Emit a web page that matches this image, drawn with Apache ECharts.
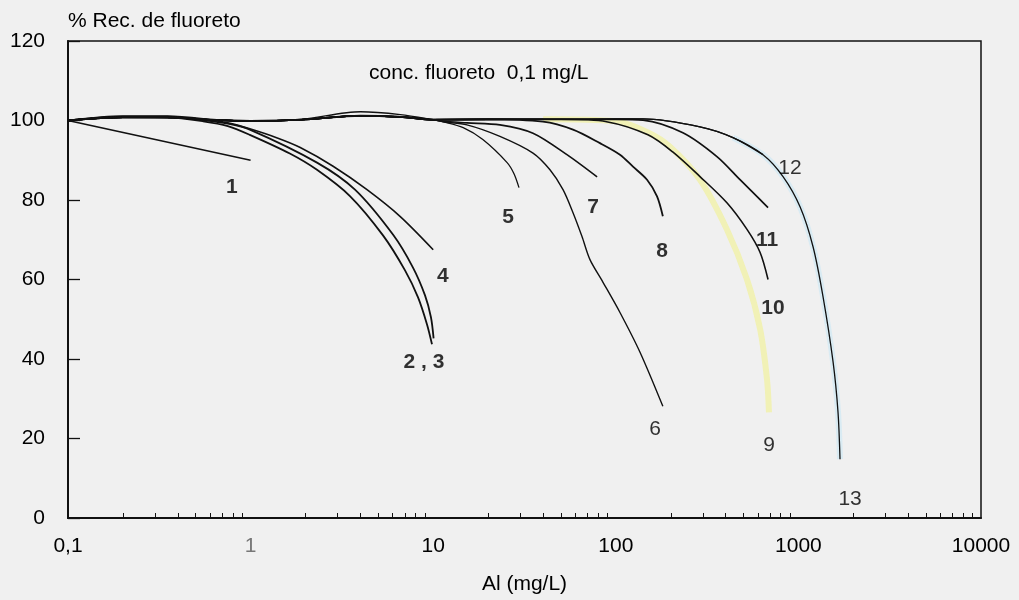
<!DOCTYPE html>
<html>
<head>
<meta charset="utf-8">
<script src="https://cdn.jsdelivr.net/npm/echarts@6/dist/echarts.min.js"></script>
<style>
html,body{margin:0;padding:0;background:#f0f0f0;}
#chart{width:1019px;height:600px;}
</style>
</head>
<body>
<div id="chart"></div>
<script>
// ---- data (x = Al mg/L, y = % recovery) ----
const xTickLabels = [0.1, 1, 10, 100, 1000, 10000];
const xMinorTicks = [0.2,0.3,0.4,0.5,0.6,0.7,0.8,0.9, 2,3,4,5,6,7,8,9, 20,30,40,50,60,70,80,90, 200,300,400,500,600,700,800,900, 2000,3000,4000,5000,6000,7000,8000,9000];

const curve1 = [[0.1,100],[1,90]];
const curve2 = [[0.1,100],[0.2,100.9],[0.35,100.8],[0.55,99.8],[0.75,98.6],[0.99,96.4],[1.64,91.7],[2.31,87.6],[3.5,81.0],[5.31,71.1],[7.01,62.3],[8.26,55.5],[9.25,48.7],[9.85,43.7]];
const curve3 = [[0.1,100],[0.2,101],[0.35,101],[0.55,100.1],[0.75,99.2],[0.99,97.7],[2.31,89.4],[3.73,82.6],[6.02,71.3],[7.75,63.0],[9.02,56.0],[9.72,50.5],[10.05,45.2]];
const curve4 = [[0.1,100],[0.2,101.1],[0.35,101.1],[0.55,100.4],[0.75,99.4],[0.99,97.9],[1.4,95.6],[1.87,93.2],[2.83,88.5],[4.34,82.6],[6.58,75.9],[10,67.5]];
const curve5 = [[0.1,100],[0.2,100.7],[0.4,100.6],[0.7,100],[1,99.8],[1.9,100.3],[4,102.2],[6.6,101.5],[10,100.2],[11.3,99.7],[14.6,98.2],[18.7,95.2],[25.4,89.4],[27.7,86.6],[29.5,83.1]];
const head = [[0.1,100],[0.2,100.8],[0.35,100.8],[0.6,100.2],[1,99.9],[1.9,100.2],[4,101.2],[6.6,100.9],[10,100.2]];
const tail6 = [[11.3,99.7],[15.3,98.9],[23.2,96.0],[35.2,91.8],[43.6,87.6],[51.4,82.6],[58.3,76.8],[65.3,70.8],[72.2,65.0],[85.1,59.3],[105.4,51.7],[135.7,41.7],[181,28.1]];
const tail7 = [[11.3,99.8],[15.3,99.4],[23.2,98.9],[35.2,96.8],[54,91.4],[79,85.8]];
const tail8 = [[20,100.3],[39.9,99.7],[58.3,97.7],[81.9,94.3],[105.4,91.4],[124.2,88.4],[148.3,85.1],[168.2,80.9],[181,75.9]];
const tail9 = [[20,100.3],[40,100.3],[100,99.8],[150,97],[198,93.4],[289,85.1],[406,72.6],[523,60],[617,47.5],[673,34.9],[690,26.6]];
const tail10 = [[20,100.3],[50,100.3],[89,99.7],[150,96.4],[205,92.1],[289,85.9],[406,79.3],[523,72.6],[617,66.8],[682,60]];
const tail11 = [[20,100.3],[50,100.3],[100,100.3],[141,100.1],[233,96.9],[358,90.9],[479,85.1],[617,80.1],[682,78.1]];
const tail12 = [[20,100.3],[50,100.3],[100,100.4],[141,100.4],[289,98.4],[438,95.7],[640,91.4]];
const tail13 = [[824,85.9],[1021,78.3],[1202,68.3],[1364,55.7],[1549,39.2],[1648,26.6],[1690,14.8]];

const curve6 = head.concat(tail6);
const curve7 = head.concat(tail7);
const curve8 = head.concat(tail8);
const curve9 = head.concat(tail9);
const curve10 = head.concat(tail10);
const curve11 = head.concat(tail11);
const curve12 = head.concat(tail12);
const curve13 = head.concat(tail12, tail13);

const labelText = ['1','2 , 3','4','5','7','8','6','9','10','11','12','13'];
const labelX    = [0.79, 8.9, 11.3, 25.7, 75, 179, 164, 690, 726, 673, 899, 1919];
const labelY    = [83.1, 39.2, 60.8, 75.6, 78.3, 67.0, 22.3, 18.3, 52.7, 69.8, 87.9, 4.8];
const labelBold = [true, true, true, true, true, true, false, false, true, true, false, false];

// ---- chart ----
const FONT = '"Liberation Sans", Arial, Helvetica, sans-serif';
const FS = 21;
const INK = '#000';
const chart = echarts.init(document.getElementById('chart'), null, {renderer:'canvas'});

function line(data, color, w, z) {
  return {type:'line', data:data, showSymbol:false, symbol:'none', smooth:0.3,
    lineStyle:{color:color, width:w}, silent:true, animation:false, z:z};
}

const series = [
  // pale coloured bands under curves 9 and 13
  line(curve9.slice(head.length + 1), '#f1f1b6', 6, 1),
  line(curve13.slice(-9), '#d9ebf3', 6, 1),
  line(curve1, '#111', 1.6, 3),
  line(curve2, '#111', 1.8, 3),
  line(curve3, '#111', 1.8, 3),
  line(curve4, '#111', 1.6, 3),
  line(curve5, '#111', 1.3, 3),
  line(curve6, '#111', 1.4, 3),
  line(curve7, '#111', 1.6, 3),
  line(curve8, '#111', 1.8, 3),
  line(curve9.slice(0, head.length + 2), '#111', 1.2, 3),
  line(curve10, '#111', 1.6, 3),
  line(curve11, '#111', 1.7, 3),
  line(curve12, '#111', 1.4, 3),
  line(curve13, '#111', 1.3, 3),
  {type:'scatter', symbolSize:1, itemStyle:{color:'rgba(0,0,0,0)'}, silent:true, animation:false, z:5,
    data: labelText.map((t,i)=>({name:t, value:[labelX[i], labelY[i]],
      label:{show:true, position:'inside', formatter:t, color:INK,
        fontFamily:FONT, fontSize:FS, fontWeight: labelBold[i] ? 'bold' : 'normal'}}))}
];

chart.setOption({
  backgroundColor:'#f0f0f0',
  animation:false,
  grid:{left:68, right:38, top:41, bottom:81, show:true, borderColor:'#111', borderWidth:1.5, backgroundColor:'#f0f0f0'},
  graphic:[
    {type:'text', left:68, top:11, style:{text:'% Rec. de fluoreto', font:FS+'px '+FONT, fill:INK}},
    {type:'text', left:369, top:63, style:{text:'conc. fluoreto  0,1 mg/L', font:FS+'px '+FONT, fill:INK}}
  ],
  xAxis:{
    type:'log', logBase:10, min:0.1, max:10000,
    name:'Al (mg/L)', nameLocation:'middle', nameGap:56,
    nameTextStyle:{fontFamily:FONT, fontSize:FS, color:INK},
    axisLine:{show:true, onZero:false, lineStyle:{color:'#111', width:2}},
    axisTick:{show:true, inside:true, length:5, customValues:xMinorTicks, lineStyle:{color:'#111', width:1}},
    minorTick:{show:false},
    splitLine:{show:false},
    axisLabel:{customValues:xTickLabels, margin:18, fontFamily:FONT, fontSize:FS,
      color:(v)=> (Math.abs(v-1)<1e-9 ? '#777' : INK),
      formatter:(v)=> String(Math.round(v*10)/10).replace('.', ',')}
  },
  yAxis:{
    type:'value', min:0, max:120, interval:20,
    axisLine:{show:true, onZero:false, lineStyle:{color:'#111', width:2}},
    axisTick:{show:true, inside:true, length:12, lineStyle:{color:'#111', width:1.3}},
    splitLine:{show:false},
    axisLabel:{margin:23, fontFamily:FONT, fontSize:FS,
      color:(v)=> (v===0 ? '#aaa' : (v===40 ? '#888' : INK))}
  },
  series:series
});
</script>
</body>
</html>
